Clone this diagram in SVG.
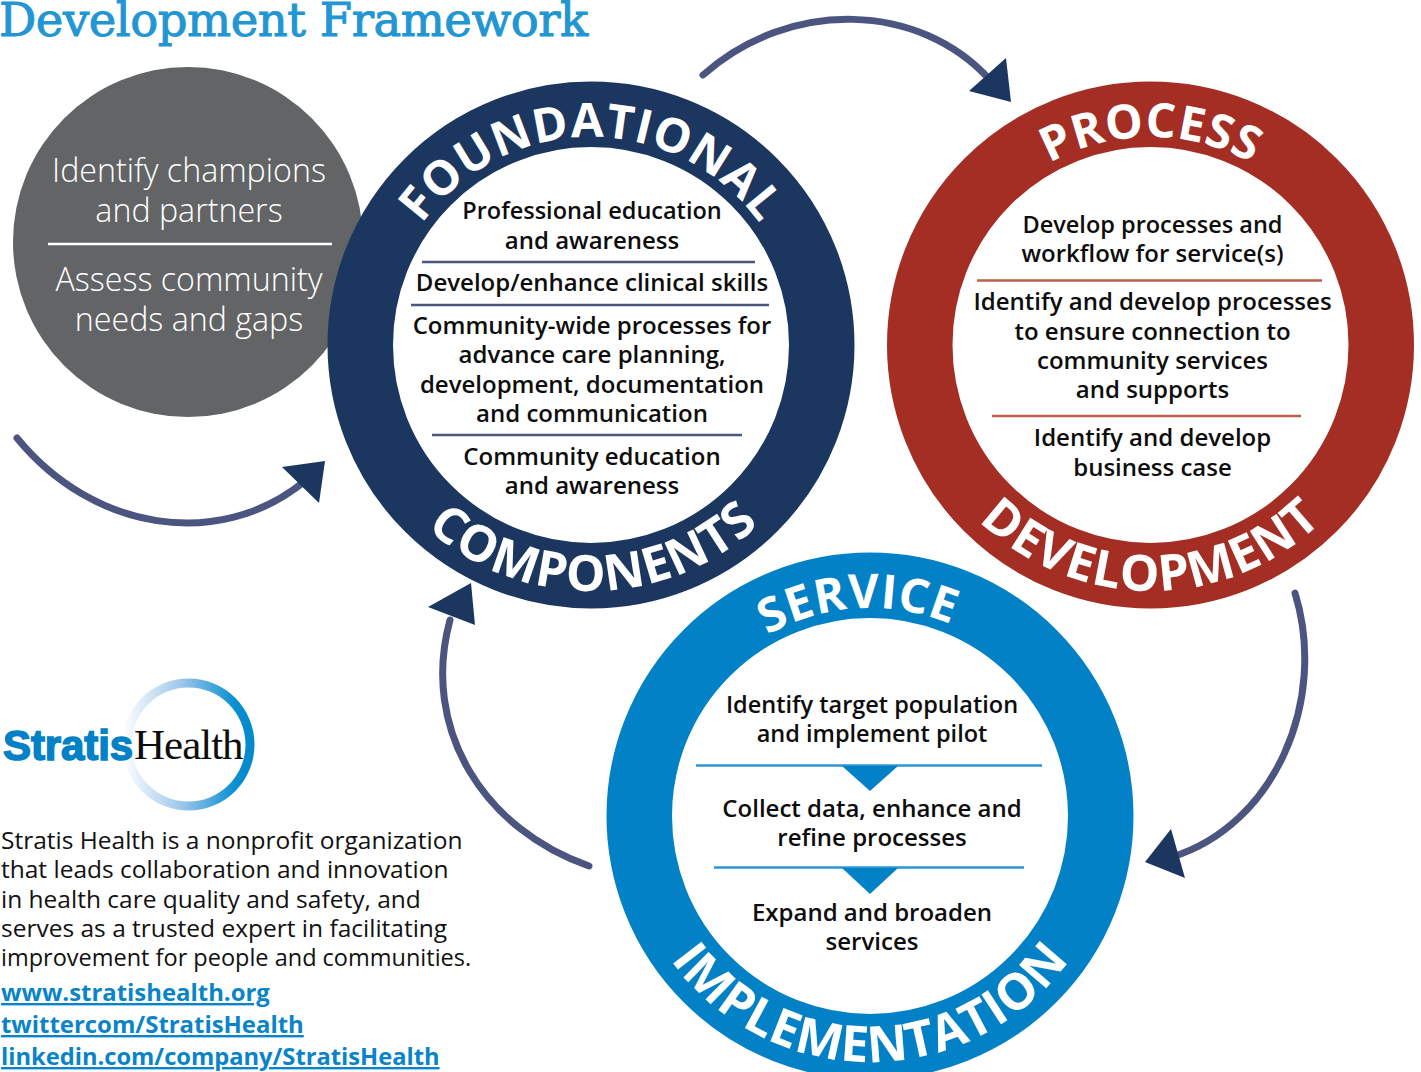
<svg xmlns="http://www.w3.org/2000/svg" width="1421" height="1072" viewBox="0 0 1421 1072">
<style>
text{font-family:"Open Sans","Noto Sans",sans-serif}
.b{font-size:24px;font-weight:600;fill:#0d0d0d;text-anchor:middle}
.n{font-size:23.5px}
.r{font-size:47.5px;font-weight:700;fill:#fff;text-anchor:middle}
.s{font-size:50px;font-weight:700;fill:#fff;text-anchor:middle}
.g{font-size:32.2px;font-weight:300;fill:#fff;text-anchor:middle}
.p{font-size:24.5px;font-weight:400;fill:#111}
.l{font-size:23.9px;font-weight:700;fill:#0a84c8;text-decoration:underline}
.c{fill:none;stroke:#4c5580;stroke-width:7;stroke-linecap:round}
.h{fill:#1b365f}
</style>
<defs>
<linearGradient id="lg" x1="0" y1="0" x2="1" y2="0"><stop offset="0" stop-color="#ffffff"/><stop offset=".45" stop-color="#9cc7ea"/><stop offset=".85" stop-color="#0a8fd0"/><stop offset="1" stop-color="#0289cc"/></linearGradient>
<path id="ft" d="M383 345A208 208 0 0 1 799 345"/>
<path id="fb" d="M345 345A246 246 0 0 0 837 345"/>
<path id="pt" d="M942.500 345A208 208 0 0 1 1358.500 345"/>
<path id="pb" d="M904.500 345A246 246 0 0 0 1396.500 345"/>
<path id="st" d="M662 816A208 208 0 0 1 1078 816"/>
<path id="sb" d="M624 816A245.500 245.500 0 0 0 1116 816"/>
</defs>
<rect width="1421" height="1072" fill="#fff"/>
<text x="-1" y="36" style="font-family:'DejaVu Serif',serif;font-size:46.5px;fill:#2196d3;stroke:#2196d3;stroke-width:1;letter-spacing:-.45px">Development Framework</text>
<g id="node-assess">
<circle cx="188" cy="242" r="175" fill="#636466"/>
<text class="g" x="189" y="182">Identify champions</text>
<text class="g" x="189" y="222">and partners</text>
<line x1="48" y1="244" x2="332" y2="244" stroke="#fff" stroke-width="2.500"/>
<text class="g" x="189" y="291">Assess community</text>
<text class="g" x="189" y="331">needs and gaps</text>
</g>
<g id="node-foundational">
<circle cx="591" cy="345" r="230.750" fill="#fff" stroke="#1b365f" stroke-width="65.500"/>
<text class="r"><textPath href="#ft" startOffset="50%" letter-spacing=".8">FOUNDATIONAL</textPath></text>
<text class="s"><textPath href="#fb" startOffset="50.400%" letter-spacing="1">COMPONENTS</textPath></text>
<g stroke="#4c5580" stroke-width="2.500"><line x1="422" y1="262" x2="755" y2="262"/><line x1="411" y1="305" x2="769" y2="305"/><line x1="432" y1="435" x2="742" y2="435"/></g>
<text class="b n" x="592" y="219">Professional education</text>
<text class="b" x="592" y="249">and awareness</text>
<text class="b" x="592" y="291">Develop/enhance clinical skills</text>
<text class="b" x="592" y="334">Community-wide processes for</text>
<text class="b" x="592" y="363">advance care planning,</text>
<text class="b" x="592" y="393">development, documentation</text>
<text class="b" x="592" y="422">and communication</text>
<text class="b" x="592" y="465">Community education</text>
<text class="b" x="592" y="494">and awareness</text>
</g>
<g id="node-process">
<circle cx="1150.500" cy="345" r="230.750" fill="#fff" stroke="#a42e23" stroke-width="65.500"/>
<text class="r"><textPath href="#pt" startOffset="50%" letter-spacing=".5">PROCESS</textPath></text>
<text class="s"><textPath href="#pb" startOffset="50%" letter-spacing="1">DEVELOPMENT</textPath></text>
<g stroke="#b9604b" stroke-width="2.500"><line x1="977" y1="280.500" x2="1322" y2="280.500"/><line x1="992" y1="416" x2="1301" y2="416"/></g>
<text class="b n" x="1152.500" y="233">Develop processes and</text>
<text class="b" x="1152.500" y="262">workflow for service(s)</text>
<text class="b" x="1152.500" y="310">Identify and develop processes</text>
<text class="b" x="1152.500" y="340">to ensure connection to</text>
<text class="b" x="1152.500" y="369">community services</text>
<text class="b" x="1152.500" y="398">and supports</text>
<text class="b" x="1152.500" y="446">Identify and develop</text>
<text class="b" x="1152.500" y="476">business case</text>
</g>
<g id="node-service">
<circle cx="870" cy="816" r="230.750" fill="#fff" stroke="#0281c6" stroke-width="65.500"/>
<text class="r"><textPath href="#st" startOffset="48.200%" letter-spacing=".5">SERVICE</textPath></text>
<text class="s"><textPath href="#sb" startOffset="50%" letter-spacing=".6">IMPLEMENTATION</textPath></text>
<g stroke="#2a96d4" stroke-width="2.500"><line x1="696" y1="765.500" x2="1042" y2="765.500"/><line x1="714" y1="867.500" x2="1024" y2="867.500"/></g>
<g fill="#0281c6"><polygon points="842,766 898,766 870,791"/><polygon points="842,868 898,868 870,894"/></g>
<text class="b n" x="872" y="713">Identify target population</text>
<text class="b n" x="872" y="742">and implement pilot</text>
<text class="b" x="872" y="817">Collect data, enhance and</text>
<text class="b" x="872" y="846">refine processes</text>
<text class="b" x="872" y="921">Expand and broaden</text>
<text class="b" x="872" y="950">services</text>
</g>
<g id="connectors">
<path class="c" d="M703 75C790 -2 920 2 990 80"/>
<polygon class="h" points="1011,102 969,91 1006,58"/>
<path class="c" d="M17 438C92 530 218 552 305 481"/>
<polygon class="h" points="325,461 282,467 319,503"/>
<path class="c" d="M1295 593C1328 700 1275 825 1172 857"/>
<polygon class="h" points="1145,862 1171,829 1185,878"/>
<path class="c" d="M589 866C485 830 420 730 450 620"/>
<polygon class="h" points="471,583 428,607 475,625"/>
</g>
<g id="logo">
<path fill="url(#lg)" fill-rule="evenodd" d="M122.500 744.500a66 66 0 1 0 132 0a66 66 0 1 0 -132 0ZM131.500 744.500a57 57 0 1 1 114 0a57 57 0 1 1 -114 0Z"/>
<text x="3" y="759.500" style="font-family:'Liberation Sans',sans-serif;font-size:42px;font-weight:700;fill:#0281c6;letter-spacing:-.1px;stroke:#0281c6;stroke-width:1.500">Stratis</text>
<text x="134" y="758.500" style="font-family:'Liberation Serif',serif;font-size:43px;fill:#0d0d0d;letter-spacing:-1px">Health</text>
</g>
<g id="about">
<text class="p" x="1" y="849">Stratis Health is a nonprofit organization</text>
<text class="p" x="1" y="878">that leads collaboration and innovation</text>
<text class="p" x="1" y="908">in health care quality and safety, and</text>
<text class="p" x="1" y="937">serves as a trusted expert in facilitating</text>
<text class="p" x="1" y="966" style="font-size:23.5px">improvement for people and communities.</text>
<text class="l" x="1" y="1001">www.stratishealth.org</text>
<text class="l" x="1" y="1033">twittercom/StratisHealth</text>
<text class="l" x="1" y="1065" style="font-size:23.7px">linkedin.com/company/StratisHealth</text>
</g>
</svg>
